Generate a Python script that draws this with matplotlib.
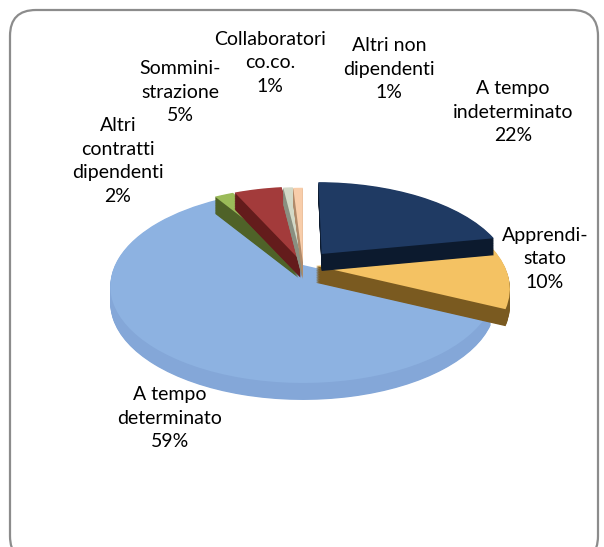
import matplotlib
matplotlib.use("Agg")
import matplotlib.pyplot as plt
from matplotlib.patches import FancyBboxPatch
from matplotlib.transforms import IdentityTransform, Transform, Affine2D
import numpy as np

# data
categories = ["A tempo\nindeterminato", "Apprendi-\nstato", "A tempo\ndeterminato",
              "Altri\ncontratti\ndipendenti", "Sommini-\nstrazione",
              "Collaboratori\nco.co.", "Altri non\ndipendenti"]
shares = [22, 10, 59, 2, 5, 1, 1]

top_colors = ["#1F3A63", "#F4C263", "#8DB2E1", "#9BBB59", "#A33B3B", "#D3D9C7", "#F8CDAA"]
side_colors = ["#0C1A2E", "#7A5A20", "#84A7D8", "#4F6228", "#641C1C", "#8A8F80", "#B08A6A"]
explode = [0.16, 0.07, 0.0, 0.05, 0.05, 0.04, 0.03]
# painter's order: light blue at the back, navy in front
draw_rank = [6, 5, 0, 1, 2, 3, 4]

# label positions in pixels (x, y from top)
label_pos = [(513, 112), (545, 259), (170, 418), (118, 161), (180, 92), (270, 63), (389, 69)]


class Tilt(Transform):
    """simple perspective for a disc seen from the front"""
    input_dims = 2
    output_dims = 2

    def __init__(self, k):
        super().__init__()
        self.k = k

    def transform_non_affine(self, values):
        v = np.asarray(values, dtype=float)
        w = 1 + self.k * v[:, 1]
        return np.column_stack([v[:, 0] / w, v[:, 1] / w])


W, H = 604, 547
fig = plt.figure(figsize=(W / 100, H / 100), dpi=100)
ax = fig.add_axes([0, 0, 1, 1])

plt.rcParams['font.family'] = ['Lato', 'DejaVu Sans']

# pie centre and scales in pixels
cx, cy = 303, 265
rx, ry = 188, 92
k = 0.22
depth = 17 / ry

# side (thickness) built from stacked layers
n_layers = 24
for i in range(n_layers, 0, -1):
    off = -depth * i / n_layers
    ws, _ = ax.pie(shares, colors=side_colors, startangle=90, counterclock=False,
                   explode=explode, radius=1, wedgeprops=dict(linewidth=0))
    for w, r in zip(ws, draw_rank):
        w.set_transform(Tilt(k) + Affine2D().translate(0, off) + ax.transData)
        w.set_zorder(2 * r + 1)

# top surface
wedges, _ = ax.pie(shares, colors=top_colors, startangle=90, counterclock=False,
                   explode=explode, radius=1, wedgeprops=dict(linewidth=0))
for w, r in zip(wedges, draw_rank):
    w.set_transform(Tilt(k) + ax.transData)
    w.set_zorder(2 * r + 2)

ax.set_aspect('auto')
ax.set_xlim(-cx / rx, (W - cx) / rx)
ax.set_ylim(-(H - cy) / ry, cy / ry)
ax.axis('off')

for cat, val, (px, py) in zip(categories, shares, label_pos):
    fig.text(px / W, 1 - py / H, f"{cat}\n{val}%", ha='center', va='center',
             multialignment='center', fontsize=14, linespacing=1.47, color='black')

# rounded frame
frame = FancyBboxPatch((10, -15), 588, 552, boxstyle="round,pad=0,rounding_size=26",
                       transform=IdentityTransform(), facecolor='none',
                       edgecolor='#8C8C8C', linewidth=1.6)
fig.patches.append(frame)

fig.savefig("out.png", dpi=100)
